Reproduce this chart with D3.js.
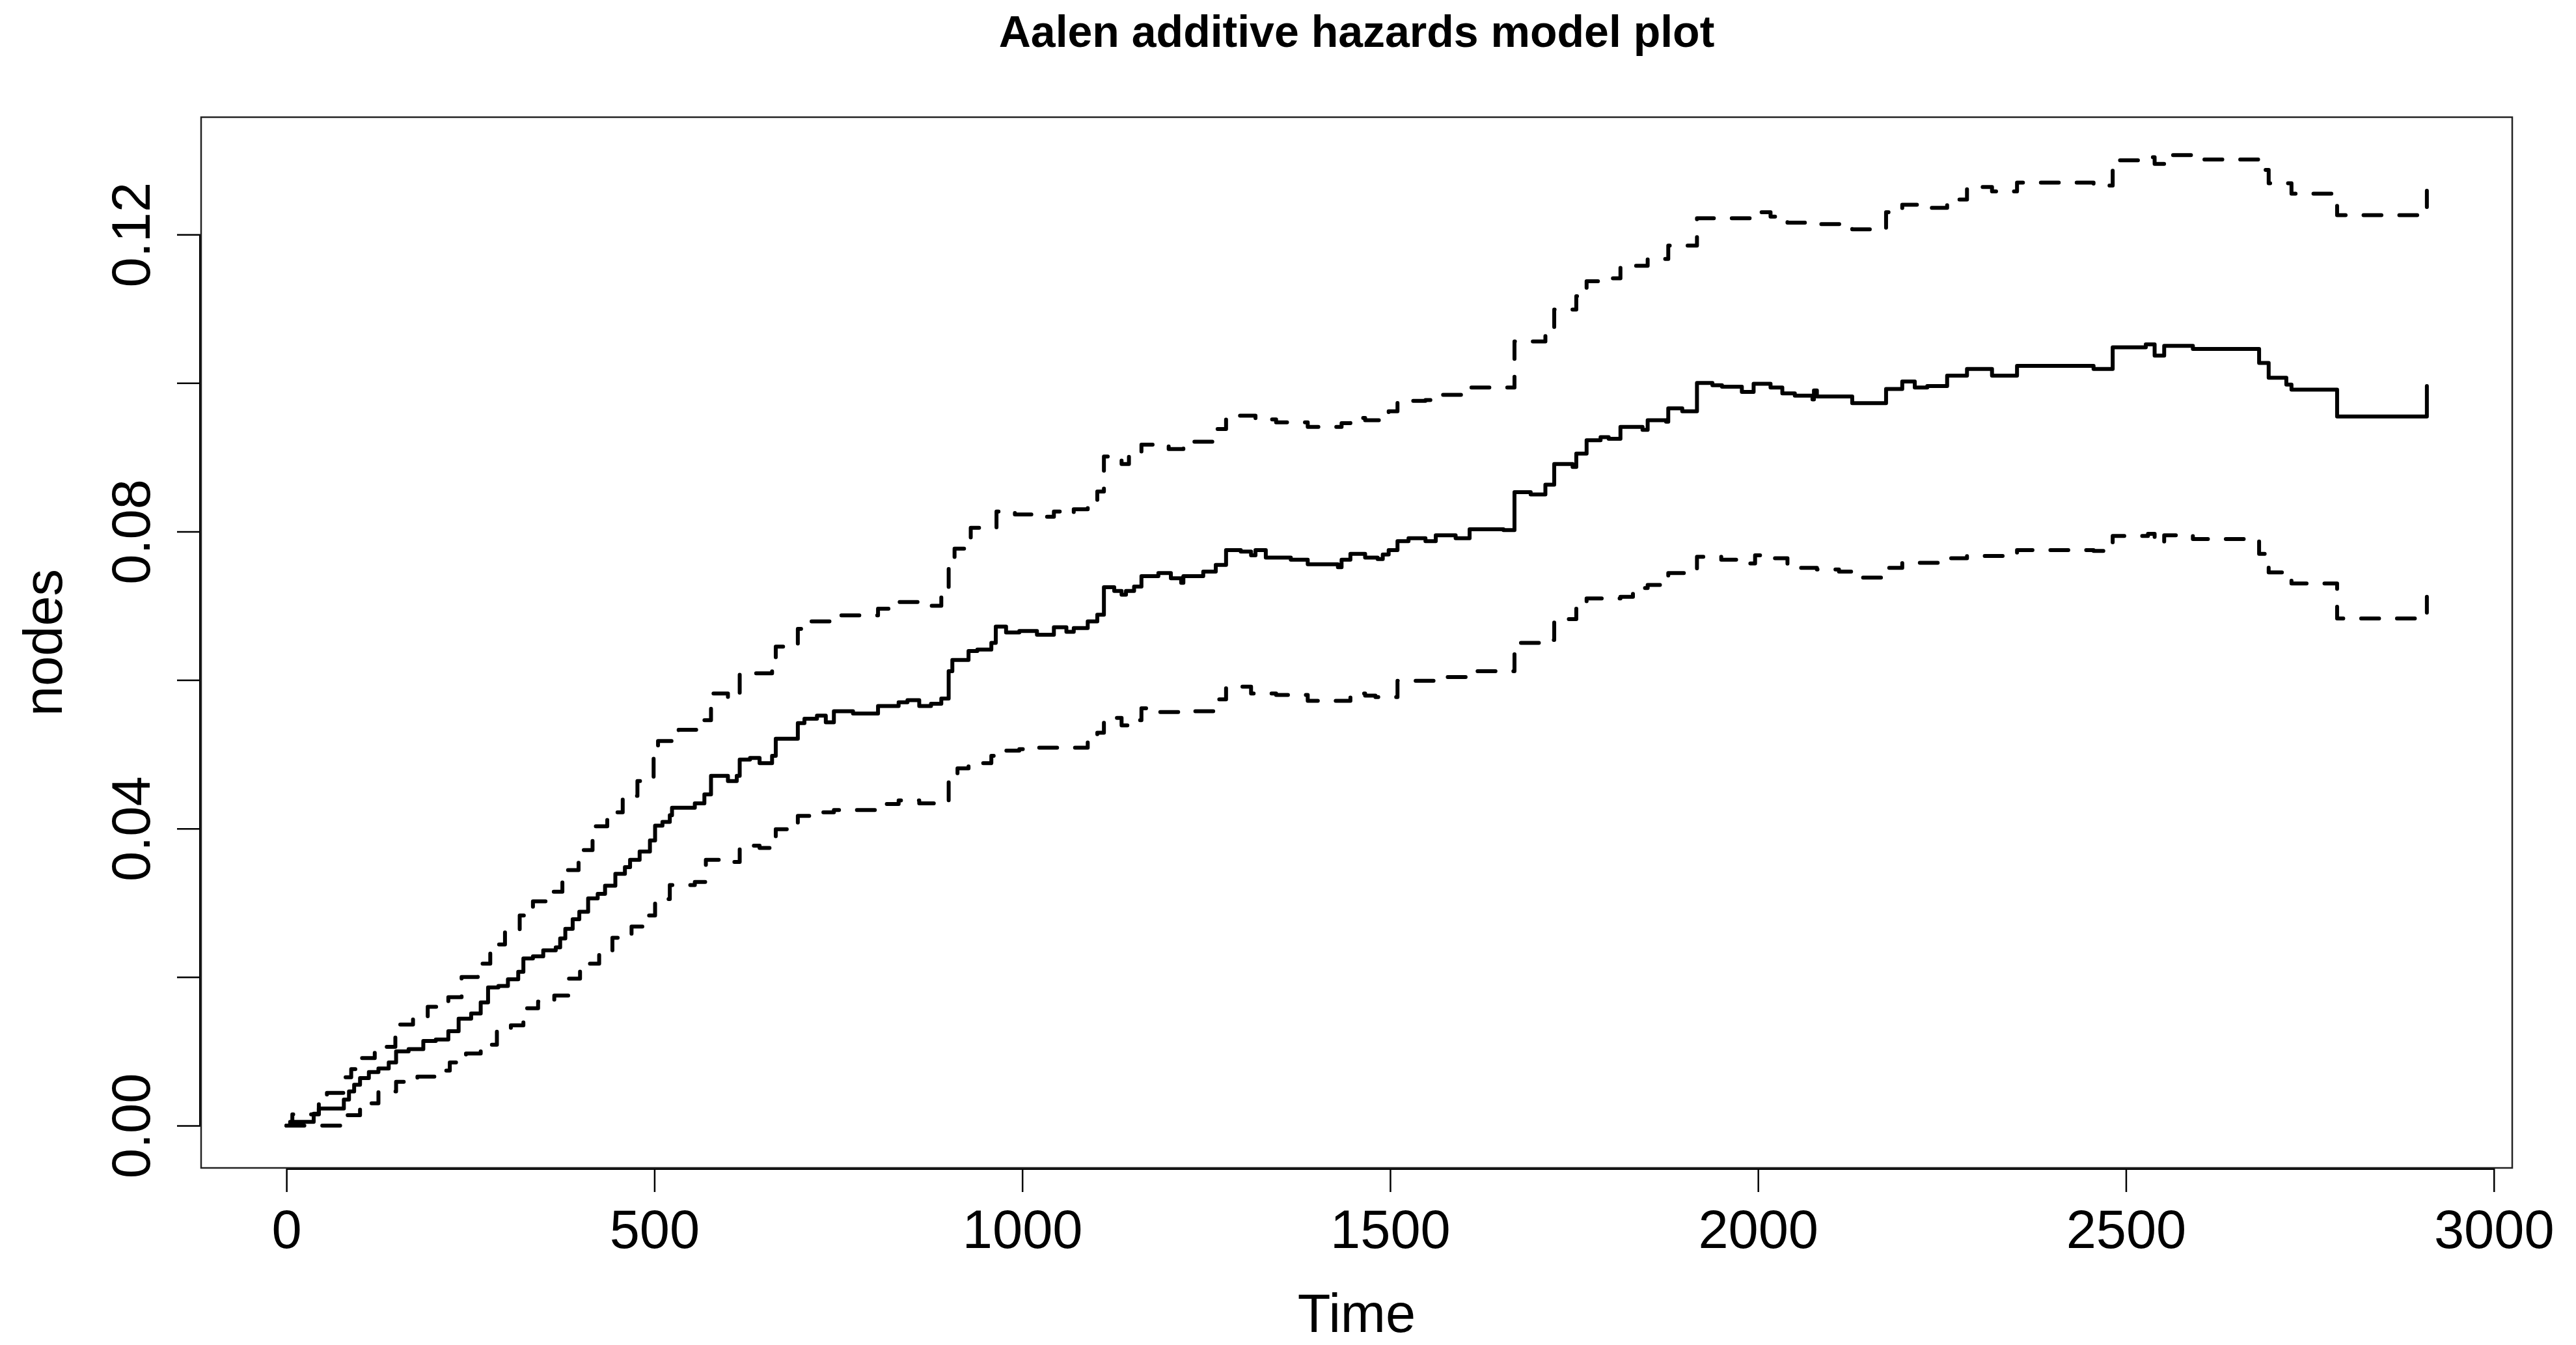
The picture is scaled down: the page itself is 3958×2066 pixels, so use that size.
<!DOCTYPE html>
<html>
<head>
<meta charset="utf-8">
<title>Aalen additive hazards model plot</title>
<script src="https://cdn.jsdelivr.net/npm/d3@7"></script>
<style>
  body { margin: 0; background: #fff; }
  text { font-family: "Liberation Sans", Arial, Helvetica, sans-serif; fill: #000; }
</style>
</head>
<body>
<div id="container"></div>
<script>
/* DATA: [time, cumulative coefficient] */
const estimate = [
  [0, 0.0000], [5, 0.0005], [37, 0.0016], [44, 0.0023], [78, 0.0035], [85, 0.0046],
  [92, 0.0055], [100, 0.0064], [112, 0.0072], [125, 0.0077], [139, 0.0085], [149, 0.0100],
  [166, 0.0103], [186, 0.0114], [203, 0.0116], [220, 0.0127], [234, 0.0144], [251, 0.0151],
  [264, 0.0166], [274, 0.0186], [288, 0.0188], [301, 0.0197], [315, 0.0207], [322, 0.0225],
  [335, 0.0228], [349, 0.0236], [366, 0.0240], [372, 0.0252], [379, 0.0265], [389, 0.0278],
  [398, 0.0288], [410, 0.0306], [423, 0.0312], [433, 0.0323], [447, 0.0339], [460, 0.0348],
  [467, 0.0358], [480, 0.0369], [494, 0.0384], [501, 0.0404], [511, 0.0409], [521, 0.0418],
  [524, 0.0428], [555, 0.0434], [568, 0.0446], [577, 0.0471], [600, 0.0464], [612, 0.0471],
  [616, 0.0493], [630, 0.0495], [643, 0.0488], [660, 0.0498], [665, 0.0521], [695, 0.0542],
  [704, 0.0548], [721, 0.0552], [733, 0.0543], [744, 0.0558], [770, 0.0555], [804, 0.0565],
  [832, 0.0570], [844, 0.0573], [860, 0.0565], [876, 0.0568], [890, 0.0575], [900, 0.0612],
  [905, 0.0627], [927, 0.0639], [939, 0.0641], [958, 0.0650], [964, 0.0672], [978, 0.0664],
  [996, 0.0666], [1020, 0.0661], [1043, 0.0671], [1060, 0.0665], [1070, 0.0670], [1089, 0.0679],
  [1102, 0.0688], [1111, 0.0725], [1125, 0.0720], [1135, 0.0715], [1141, 0.0720], [1152, 0.0726],
  [1162, 0.0740], [1185, 0.0744], [1202, 0.0737], [1216, 0.0731], [1219, 0.0740], [1246, 0.0746],
  [1263, 0.0755], [1277, 0.0775], [1297, 0.0773], [1311, 0.0768], [1317, 0.0775], [1331, 0.0765],
  [1365, 0.0762], [1388, 0.0756], [1429, 0.0752], [1434, 0.0762], [1446, 0.0770], [1466, 0.0765],
  [1483, 0.0763], [1490, 0.0769], [1498, 0.0775], [1510, 0.0787], [1525, 0.0791], [1548, 0.0787],
  [1562, 0.0795], [1589, 0.0791], [1608, 0.0803], [1654, 0.0802], [1669, 0.0853], [1691, 0.0850],
  [1711, 0.0863], [1723, 0.0891], [1748, 0.0887], [1753, 0.0905], [1767, 0.0923], [1786, 0.0927],
  [1797, 0.0925], [1813, 0.0941], [1843, 0.0937], [1850, 0.0950], [1875, 0.0948], [1878, 0.0966],
  [1897, 0.0962], [1917, 0.1000], [1938, 0.0997], [1951, 0.0995], [1978, 0.0988], [1994, 0.0999],
  [2017, 0.0994], [2033, 0.0986], [2050, 0.0983], [2074, 0.0978], [2076, 0.0990], [2080, 0.0982],
  [2128, 0.0973], [2174, 0.0992], [2196, 0.1002], [2213, 0.0994], [2230, 0.0996], [2257, 0.1010],
  [2284, 0.1019], [2318, 0.1010], [2352, 0.1023], [2456, 0.1019], [2482, 0.1048], [2527, 0.1052],
  [2539, 0.1037], [2552, 0.1050], [2591, 0.1046], [2681, 0.1027], [2694, 0.1007], [2718, 0.0998],
  [2725, 0.0991], [2787, 0.0955], [2909, 0.0996]
];

const upper = [
  [0, 0.0000], [8, 0.0015], [44, 0.0031], [55, 0.0044], [80, 0.0065], [88, 0.0076],
  [100, 0.0091], [120, 0.0106], [148, 0.0136], [172, 0.0147], [192, 0.0160], [220, 0.0173],
  [238, 0.0200], [260, 0.0218], [277, 0.0244], [297, 0.0262], [317, 0.0283], [335, 0.0302],
  [360, 0.0315], [375, 0.0344], [397, 0.0371], [416, 0.0403], [436, 0.0422], [457, 0.0444],
  [477, 0.0464], [499, 0.0510], [505, 0.0518], [533, 0.0533], [560, 0.0546], [577, 0.0582],
  [600, 0.0576], [616, 0.0609], [660, 0.0622], [665, 0.0645], [695, 0.0669], [704, 0.0679],
  [744, 0.0687], [804, 0.0696], [832, 0.0705], [860, 0.0700], [890, 0.0716], [900, 0.0761],
  [908, 0.0777], [930, 0.0805], [965, 0.0827], [990, 0.0823], [1020, 0.0820], [1043, 0.0827],
  [1060, 0.0824], [1070, 0.0830], [1089, 0.0840], [1102, 0.0854], [1111, 0.0901], [1135, 0.0891],
  [1145, 0.0905], [1162, 0.0917], [1199, 0.0911], [1219, 0.0921], [1263, 0.0938], [1277, 0.0956],
  [1317, 0.0951], [1345, 0.0947], [1388, 0.0941], [1434, 0.0946], [1446, 0.0953], [1466, 0.0950],
  [1498, 0.0962], [1510, 0.0976], [1548, 0.0977], [1562, 0.0984], [1608, 0.0994], [1669, 0.1056],
  [1711, 0.1066], [1723, 0.1099], [1753, 0.1117], [1767, 0.1137], [1797, 0.1141], [1813, 0.1158],
  [1850, 0.1167], [1878, 0.1185], [1917, 0.1222], [1994, 0.1230], [2017, 0.1224], [2040, 0.1216],
  [2080, 0.1214], [2128, 0.1207], [2174, 0.1230], [2196, 0.1240], [2230, 0.1236], [2257, 0.1247],
  [2284, 0.1264], [2318, 0.1258], [2352, 0.1270], [2456, 0.1266], [2482, 0.1300], [2527, 0.1304],
  [2539, 0.1295], [2552, 0.1307], [2591, 0.1301], [2681, 0.1287], [2694, 0.1269], [2725, 0.1255],
  [2787, 0.1226], [2909, 0.1259]
];

const lower = [
  [0, 0.0000], [76, 0.0014], [100, 0.0030], [125, 0.0046], [149, 0.0059], [178, 0.0066],
  [205, 0.0074], [222, 0.0085], [244, 0.0097], [264, 0.0109], [286, 0.0127], [305, 0.0135],
  [322, 0.0158], [342, 0.0167], [364, 0.0175], [384, 0.0198], [399, 0.0218], [425, 0.0233],
  [443, 0.0253], [469, 0.0268], [487, 0.0283], [501, 0.0305], [521, 0.0324], [555, 0.0328],
  [570, 0.0358], [600, 0.0355], [616, 0.0377], [643, 0.0374], [665, 0.0399], [695, 0.0417],
  [720, 0.0422], [744, 0.0425], [804, 0.0433], [832, 0.0438], [860, 0.0434], [900, 0.0464],
  [912, 0.0481], [927, 0.0488], [958, 0.0498], [964, 0.0505], [996, 0.0507], [1020, 0.0509],
  [1089, 0.0518], [1102, 0.0529], [1111, 0.0549], [1135, 0.0539], [1145, 0.0546], [1162, 0.0562],
  [1185, 0.0557], [1219, 0.0558], [1263, 0.0574], [1277, 0.0591], [1311, 0.0582], [1345, 0.0580],
  [1388, 0.0572], [1446, 0.0582], [1466, 0.0579], [1480, 0.0577], [1510, 0.0599], [1570, 0.0604],
  [1608, 0.0612], [1669, 0.0650], [1711, 0.0654], [1723, 0.0682], [1753, 0.0696], [1767, 0.0710],
  [1813, 0.0712], [1830, 0.0724], [1850, 0.0728], [1878, 0.0744], [1917, 0.0766], [1950, 0.0762],
  [1978, 0.0757], [1996, 0.0768], [2010, 0.0764], [2040, 0.0751], [2080, 0.0749], [2110, 0.0746],
  [2128, 0.0738], [2174, 0.0751], [2196, 0.0758], [2257, 0.0764], [2284, 0.0767], [2352, 0.0775],
  [2456, 0.0774], [2482, 0.0794], [2530, 0.0797], [2539, 0.0784], [2552, 0.0795], [2591, 0.0790],
  [2681, 0.0770], [2694, 0.0745], [2725, 0.0730], [2787, 0.0683], [2909, 0.0712]
];

const xTicks = [0, 500, 1000, 1500, 2000, 2500, 3000];
const yTicks = [0, 0.02, 0.04, 0.06, 0.08, 0.10, 0.12];
const yTickLabels = ["0.00", "", "0.04", "", "0.08", "", "0.12"];
const xLimits = [-116, 3025];
const yLimits = [-0.0057, 0.1358];

/* CONSTANTS AND GLOBALS */
const width = 3958,
  height = 2066,
  margin = { top: 180, bottom: 272, left: 309, right: 98 };
const fontSize = 83;

const svg = d3.select("#container")
  .append("svg")
  .attr("width", width)
  .attr("height", height)
  .style("background", "#fff");

// SCALES
const x = d3.scaleLinear()
  .domain(xLimits)
  .range([margin.left, width - margin.right]);

const y = d3.scaleLinear()
  .domain(yLimits)
  .range([height - margin.bottom, margin.top]);

// TITLE
svg.append("text")
  .attr("x", (margin.left + width - margin.right) / 2)
  .attr("y", 72)
  .attr("text-anchor", "middle")
  .style("font-size", "68px")
  .style("font-weight", "bold")
  .text("Aalen additive hazards model plot");

// X AXIS
const xAxis = svg.append("g")
  .attr("transform", `translate(0, ${height - margin.bottom})`)
  .call(d3.axisBottom(x).tickValues(xTicks).tickSize(37).tickPadding(27).tickFormat(d3.format("d")));
xAxis.select(".domain").remove();
xAxis.selectAll(".tick line").attr("stroke-width", 2.5);
xAxis.selectAll(".tick text").style("font-size", fontSize + "px").attr("fill", "#000");

svg.append("line")
  .attr("x1", x(xTicks[0]))
  .attr("x2", x(xTicks[xTicks.length - 1]))
  .attr("y1", height - margin.bottom + 1.5)
  .attr("y2", height - margin.bottom + 1.5)
  .attr("stroke", "#000")
  .attr("stroke-width", 3);

// Y AXIS
const yAxis = svg.append("g")
  .attr("transform", `translate(${margin.left}, 0)`)
  .call(d3.axisLeft(y).tickValues(yTicks).tickSize(37).tickFormat((d, i) => yTickLabels[i]));
yAxis.select(".domain").remove();
yAxis.selectAll(".tick line").attr("stroke-width", 2.5);
yAxis.selectAll(".tick text")
  .style("font-size", fontSize + "px")
  .attr("fill", "#000")
  .attr("text-anchor", "middle")
  .attr("x", 0)
  .attr("y", -79)
  .attr("dy", 0)
  .attr("transform", "rotate(-90)");

svg.append("line")
  .attr("x1", margin.left - 1.5)
  .attr("x2", margin.left - 1.5)
  .attr("y1", y(yTicks[0]))
  .attr("y2", y(yTicks[yTicks.length - 1]))
  .attr("stroke", "#000")
  .attr("stroke-width", 3);

// PLOT BOX
svg.append("rect")
  .attr("x", margin.left)
  .attr("y", margin.top)
  .attr("width", width - margin.left - margin.right)
  .attr("height", height - margin.top - margin.bottom)
  .attr("fill", "none")
  .attr("stroke", "#222")
  .attr("stroke-width", 2.5);

// AXIS TITLES
svg.append("text")
  .attr("x", (margin.left + width - margin.right) / 2)
  .attr("y", 2046)
  .attr("text-anchor", "middle")
  .style("font-size", fontSize + "px")
  .text("Time");

svg.append("text")
  .attr("transform", `translate(95, ${(margin.top + height - margin.bottom) / 2}) rotate(-90)`)
  .attr("text-anchor", "middle")
  .style("font-size", fontSize + "px")
  .text("nodes");

// STEP CURVES
const stepLine = d3.line()
  .x(d => x(d[0]))
  .y(d => y(d[1]))
  .curve(d3.curveStepAfter);

const series = [
  { name: "lower", data: lower, dash: "27.5 27.5" },
  { name: "upper", data: upper, dash: "27.5 27.5" },
  { name: "estimate", data: estimate, dash: null }
];

svg.selectAll("path.curve")
  .data(series)
  .join("path")
  .attr("class", "curve")
  .attr("d", d => stepLine(d.data))
  .attr("fill", "none")
  .attr("stroke", "#000")
  .attr("stroke-width", 6)
  .attr("stroke-linejoin", "round")
  .attr("stroke-linecap", "round")
  .attr("stroke-dasharray", d => d.dash);
</script>
</body>
</html>
